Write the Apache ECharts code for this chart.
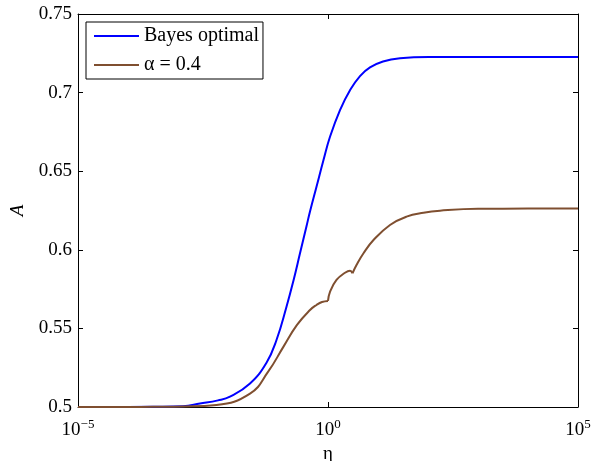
<!DOCTYPE html>
<html>
<head>
<meta charset="utf-8">
<script src="https://cdn.jsdelivr.net/npm/echarts@6/dist/echarts.min.js"></script>
<style>html,body{margin:0;padding:0;background:#fff}#c{width:607px;height:461px}</style>
</head>
<body>
<div id="c"></div>
<script>
// x values are log10(eta)
const bayesLogEta = [-5, -4, -3.5, -2.9, -2.56, -2.2, -1.96, -1.56, -1.23, -1.03, -0.83, -0.69, -0.56, -0.43, -0.36, -0.23, -0.09, 0.04, 0.24, 0.44, 0.64, 0.84, 1.1, 1.44, 2.1, 3, 4, 5];
const bayesA = [0.5, 0.5, 0.5001, 0.5005, 0.5022, 0.5042, 0.5066, 0.5150, 0.5282, 0.5426, 0.5638, 0.5805, 0.5978, 0.6150, 0.6243, 0.6401, 0.6571, 0.6719, 0.6889, 0.7015, 0.7105, 0.7160, 0.7198, 0.7218, 0.7226, 0.7227, 0.7227, 0.7227];
const alphaLogEta = [-5, -4, -3.5, -2.9, -2.23, -1.56, -1.2, -0.89, -0.62, -0.36, -0.23, -0.12, 0, 0.04, 0.17, 0.34, 0.44, 0.49, 0.57, 0.71, 0.91, 1.24, 1.57, 1.91, 2.24, 3, 4, 5];
const alphaA = [0.5, 0.5, 0.5001, 0.5003, 0.5013, 0.5085, 0.5223, 0.5384, 0.5522, 0.5617, 0.5649, 0.5668, 0.5675, 0.5733, 0.5808, 0.5854, 0.5867, 0.5851, 0.5903, 0.5978, 0.6062, 0.6158, 0.6211, 0.6236, 0.6249, 0.6261, 0.6262, 0.6262];
const alphaCusps = [0, 0.49];
const xTicks = [-5, 0, 5];
const yTicks = [0.5, 0.55, 0.6, 0.65, 0.7, 0.75];
const seriesNames = ['Bayes optimal', 'α = 0.4'];
const seriesColors = ['#0000ff', '#7f4f30'];

const zip = (xs, ys) => xs.map((x, i) => [x, ys[i]]);
function splitAt(points, cuts) {
  const segs = [];
  let cur = [];
  points.forEach(p => {
    cur.push(p);
    if (cuts.includes(p[0])) { segs.push(cur); cur = [p]; }
  });
  if (cur.length > 1) segs.push(cur);
  return segs;
}
const font = 'Liberation Serif, Times New Roman, serif';
const chart = echarts.init(document.getElementById('c'));
const supStyle = {fontSize: 13, fontFamily: font, color: '#000', verticalAlign: 'bottom', padding: [0, 0, 9, 0]};
const baseStyle = {fontSize: 19, fontFamily: font, color: '#000', verticalAlign: 'bottom'};
const lineCommon = {type: 'line', showSymbol: false, smooth: 0.45, sampling: 'none', lineStyle: {width: 2}, animation: false};
const series = [
  Object.assign({}, lineCommon, {name: seriesNames[0], color: seriesColors[0], data: zip(bayesLogEta, bayesA)})
];
splitAt(zip(alphaLogEta, alphaA), alphaCusps).forEach(seg => {
  series.push(Object.assign({}, lineCommon, {name: seriesNames[1], color: seriesColors[1], data: seg}));
});
const xBase = {type: 'value', min: xTicks[0], max: xTicks[xTicks.length - 1], interval: 5,
  axisLine: {onZero: false, lineStyle: {color: '#000', width: 1}}, axisTick: {inside: true, length: 5, lineStyle: {color: '#000'}},
  splitLine: {show: false}};
const yBase = {type: 'value', min: yTicks[0], max: yTicks[yTicks.length - 1], interval: 0.05,
  axisLine: {show: true, onZero: false, lineStyle: {color: '#000', width: 1}}, axisTick: {show: true, inside: true, length: 5, lineStyle: {color: '#000'}},
  splitLine: {show: false}};
chart.setOption({
  animation: false,
  grid: {left: 78, right: 29, top: 14, bottom: 54, outerBoundsMode: 'none', containLabel: false},
  legend: {
    left: 86, top: 22, orient: 'vertical', data: seriesNames,
    icon: 'rect', itemWidth: 45, itemHeight: 2, itemGap: 9,
    padding: [4, 4, 4, 8], borderColor: '#000', borderWidth: 1, backgroundColor: '#fff',
    textStyle: {fontSize: 20, fontFamily: font, color: '#000'}
  },
  xAxis: [
    Object.assign({}, xBase, {position: 'bottom', name: 'η', nameLocation: 'middle', nameGap: 35,
      nameTextStyle: {fontSize: 19, fontFamily: font, color: '#000'},
      axisLabel: {margin: 11, formatter: v => '{b|10}{s|' + (v < 0 ? '−' + (-v) : v) + '}', rich: {b: baseStyle, s: supStyle}}}),
    Object.assign({}, xBase, {position: 'top', axisLabel: {show: false}})
  ],
  yAxis: [
    Object.assign({}, yBase, {position: 'left', name: 'A', nameLocation: 'middle', nameGap: 45, nameRotate: 90,
      nameTextStyle: {fontSize: 19, fontFamily: font, fontStyle: 'italic', color: '#000'},
      axisLabel: {margin: 6, fontSize: 19, fontFamily: font, color: '#000', formatter: v => String(+v.toFixed(2))}}),
    Object.assign({}, yBase, {position: 'right', axisLabel: {show: false}})
  ],
  series: series
});
</script>
</body>
</html>
